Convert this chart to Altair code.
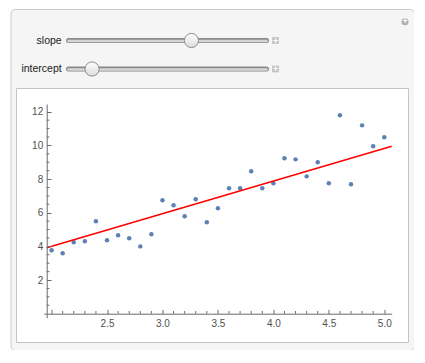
import altair as alt
import pandas as pd

# ---------------- data ----------------
x_vals = [2.0, 2.1, 2.2, 2.3, 2.4, 2.5, 2.6, 2.7, 2.8, 2.9,
          3.0, 3.1, 3.2, 3.3, 3.4, 3.5, 3.6, 3.7, 3.8, 3.9,
          4.0, 4.1, 4.2, 4.3, 4.4, 4.5, 4.6, 4.7, 4.8, 4.9, 5.0]
y_vals = [3.77, 3.59, 4.24, 4.30, 5.49, 4.36, 4.66, 4.48, 4.00, 4.72,
          6.74, 6.44, 5.79, 6.80, 5.43, 6.26, 7.45, 7.45, 8.46, 7.45,
          7.75, 9.23, 9.17, 8.16, 9.00, 7.75, 11.79, 7.69, 11.19, 9.95, 10.48]

SLOPE = 1.94
INTERCEPT = 0.12

slider_labels = ["slope", "intercept"]
slider_pos = [0.63, 0.09]          # knob position along each slider (0..1)

x_major = [2.0, 2.5, 3.0, 3.5, 4.0, 4.5, 5.0]
x_minor = [2.1, 2.2, 2.3, 2.4, 2.6, 2.7, 2.8, 2.9, 3.1, 3.2, 3.3, 3.4,
           3.6, 3.7, 3.8, 3.9, 4.1, 4.2, 4.3, 4.4, 4.6, 4.7, 4.8, 4.9]
y_major = [2, 4, 6, 8, 10, 12]
y_minor = [0.5, 1.0, 1.5, 2.5, 3.0, 3.5, 4.5, 5.0, 5.5, 6.5, 7.0, 7.5,
           8.5, 9.0, 9.5, 10.5, 11.0, 11.5]

X_DOMAIN = [1.956, 5.067]
Y_DOMAIN = [0.0, 12.46]

# ---------------- layout / style ----------------
W, H = 403.5, 341
X_RANGE = [36.2, 381.2]     # plot region inside the panel (pixels)
Y_RANGE = [304.7, 95.0]
AXIS = "#6b6b6b"
LABEL = "#505050"
FONT = "Liberation Sans"
PT = "#5E81B5"

x_scale = alt.Scale(domain=X_DOMAIN, range=X_RANGE, nice=False, zero=False)
y_scale = alt.Scale(domain=Y_DOMAIN, range=Y_RANGE, nice=False, zero=False)

x_axis = alt.Axis(orient="top", offset=-Y_RANGE[0], values=x_major,
                  labelExpr="datum.value == 2 ? '' : format(datum.value, '.1f')",
                  tickSize=4.3, tickColor=AXIS, tickWidth=1,
                  domainColor=AXIS, domainWidth=1,
                  labelColor=LABEL, labelFont=FONT, labelFontSize=10,
                  labelBaseline="top", labelAlign="center", labelPadding=-9.2,
                  labelFlush=False, labelOverlap=False,
                  grid=False, title=None, zindex=1)
y_axis = alt.Axis(orient="right", offset=X_RANGE[0] - W, values=y_major,
                  format="d",
                  tickSize=4.3, tickColor=AXIS, tickWidth=1,
                  domainColor=AXIS, domainWidth=1,
                  labelColor=LABEL, labelFont=FONT, labelFontSize=10,
                  labelAlign="right", labelBaseline="middle", labelPadding=-8.3,
                  labelFlush=False, labelOverlap=False,
                  grid=False, title=None, zindex=1)

one = pd.DataFrame({"k": [0]})
pts_df = pd.DataFrame({"x": x_vals, "y": y_vals})
line_df = pd.DataFrame({"x": X_DOMAIN})
xm_df = pd.DataFrame({"v": x_minor})
ym_df = pd.DataFrame({"v": y_minor})
sl_df = pd.DataFrame({"param": slider_labels, "pos": slider_pos})

# ---------------- chrome ----------------
white_box = alt.Chart(one).mark_rect(fill="white", stroke="#c4c4c4", strokeWidth=1).encode(
    x=alt.value(6), x2=alt.value(398), y=alt.value(79.5), y2=alt.value(333.5))
icon = alt.Chart(one).mark_circle(size=50, color="#aeaeae", opacity=1).encode(
    x=alt.value(394.5), y=alt.value(12.7))
icon_plus = alt.Chart(one).mark_text(text="+", color="white", fontSize=9, fontWeight="bold",
                                     baseline="middle", font=FONT).encode(
    x=alt.value(394.5), y=alt.value(12.4))

# ---------------- sliders ----------------
y_sl = alt.Y("param:N", scale=alt.Scale(type="point", domain=slider_labels,
                                        range=[31.5, 60.0], padding=0), axis=None)
track_outer = alt.Chart(sl_df).mark_rule(color="#8a8a8a", strokeWidth=5, strokeCap="round").encode(
    x=alt.value(58), x2=alt.value(256), y=y_sl)
track_inner = alt.Chart(sl_df).mark_rule(color="#d6d6d6", strokeWidth=2.6, strokeCap="round").encode(
    x=alt.value(58), x2=alt.value(256), y=y_sl, yOffset=alt.value(0.5))
knob = alt.Chart(sl_df).mark_circle(
    size=200, opacity=1, stroke="#8c8c8c", strokeWidth=1,
    fill={"gradient": "linear", "x1": 0, "y1": 0, "x2": 0, "y2": 1,
          "stops": [{"offset": 0, "color": "#ffffff"}, {"offset": 1, "color": "#dcdcdc"}]}
).encode(x=alt.X("pos:Q", scale=alt.Scale(domain=[0, 1], range=[65, 249]), axis=None), y=y_sl)
sl_text = alt.Chart(sl_df).mark_text(align="right", baseline="middle", font=FONT,
                                     fontSize=10.5, color="#1a1a1a").encode(
    x=alt.value(51.2), y=y_sl, text="param:N")
btn = alt.Chart(sl_df).mark_square(size=46, color="#c4c4c4", opacity=1).encode(
    x=alt.value(265), y=y_sl)
btn_plus = alt.Chart(sl_df).mark_text(text="+", color="white", fontSize=9, fontWeight="bold",
                                      baseline="middle", font=FONT).encode(
    x=alt.value(265), y=y_sl)
sliders = alt.layer(track_outer, track_inner, knob, sl_text, btn, btn_plus)

# ---------------- plot ----------------
points = alt.Chart(pts_df).mark_circle(size=20, color=PT, opacity=1).encode(
    x=alt.X("x:Q", scale=x_scale, axis=x_axis),
    y=alt.Y("y:Q", scale=y_scale, axis=y_axis))
fit = alt.Chart(line_df).transform_calculate(
    y=f"{SLOPE} * datum.x + {INTERCEPT}"
).mark_line(color="#ff0000", strokeWidth=1.5).encode(x="x:Q", y="y:Q")
xminor = alt.Chart(xm_df).mark_rule(color=AXIS, strokeWidth=1, y2Offset=-2.7).encode(
    x="v:Q", y=alt.datum(0), y2=alt.datum(0))
yminor = alt.Chart(ym_df).mark_rule(color=AXIS, strokeWidth=1, x2Offset=2.7).encode(
    y="v:Q", x=alt.datum(X_DOMAIN[0]), x2=alt.datum(X_DOMAIN[0]))
yext = alt.Chart(one).mark_rule(color=AXIS, strokeWidth=1, xOffset=0.5, y2Offset=4.5).encode(
    x=alt.datum(X_DOMAIN[0]), y=alt.datum(0), y2=alt.datum(0))
xext = alt.Chart(one).mark_rule(color=AXIS, strokeWidth=1, yOffset=0.5, x2Offset=-2.5).encode(
    x=alt.datum(X_DOMAIN[0]), x2=alt.datum(X_DOMAIN[0]), y=alt.datum(0))
plot = alt.layer(points, fit, xminor, yminor, yext, xext)

chart = alt.layer(white_box, icon, icon_plus, sliders, plot).resolve_scale(
    x="independent", y="independent"
).properties(
    width=W, height=H, autosize="none",
    padding={"left": 2.5, "top": 1, "right": 0, "bottom": 0},
    background="white"
).configure_view(fill="#f5f5f5", stroke="#cdcdcd", strokeWidth=1, cornerRadius=4)

chart.save("out.html", embed_options={"renderer": "svg", "actions": False})
